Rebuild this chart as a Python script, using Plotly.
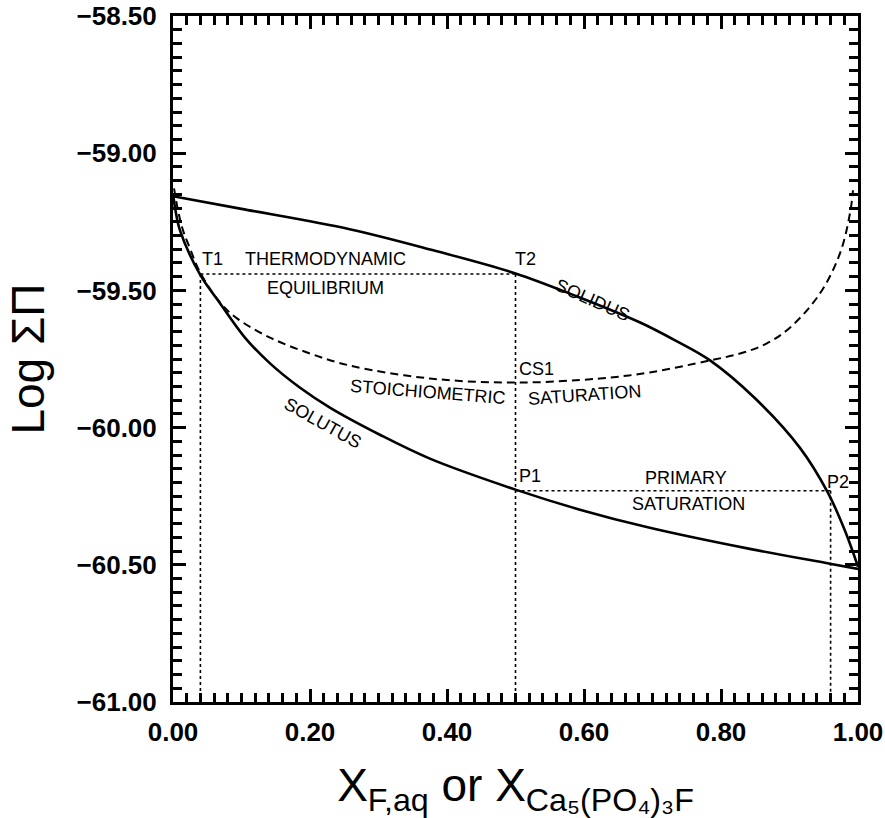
import plotly.graph_objects as go

# ---- data ----
solidus_x = [0.0, 0.1, 0.258, 0.38, 0.5, 0.59, 0.682, 0.733, 0.784, 0.85, 0.915, 0.956, 0.981, 1.0]
solidus_y = [-59.157, -59.203, -59.277, -59.354, -59.438, -59.522, -59.617, -59.682, -59.755, -59.894, -60.073, -60.237, -60.376, -60.507]

solutus_x = [0.0, 0.0036, 0.0102, 0.0394, 0.0686, 0.105, 0.1416, 0.185, 0.229, 0.302, 0.375, 0.5, 0.594, 0.696, 0.842, 0.959, 1.0]
solutus_y = [-59.146, -59.208, -59.281, -59.442, -59.547, -59.672, -59.766, -59.854, -59.927, -60.026, -60.113, -60.226, -60.299, -60.365, -60.442, -60.496, -60.515]

stoich_x = [0.0015, 0.0073, 0.0146, 0.0248, 0.0394, 0.0686, 0.0934, 0.1416, 0.2, 0.2584, 0.375, 0.5, 0.623, 0.696, 0.784, 0.828, 0.867, 0.901, 0.9445, 0.9737, 0.9883, 0.9927]
stoich_y = [-59.128, -59.208, -59.281, -59.347, -59.434, -59.544, -59.602, -59.672, -59.730, -59.774, -59.821, -59.836, -59.821, -59.799, -59.755, -59.730, -59.693, -59.635, -59.511, -59.365, -59.219, -59.135]

points = {"T1": (0.04, -59.44), "T2": (0.5, -59.44), "P1": (0.5, -60.23), "P2": (0.96, -60.23), "CS1": (0.5, -59.836)}
y_bottom = -61.0

x_ticks = [0.0, 0.2, 0.4, 0.6, 0.8, 1.0]
y_ticks = [-61.0, -60.5, -60.0, -59.5, -59.0, -58.5]

# labels: (text, x, y, angle)
labels = [
    ("T1", 0.058, -59.387, 0),
    ("THERMODYNAMIC", 0.222, -59.387, 0),
    ("EQUILIBRIUM", 0.223, -59.493, 0),
    ("T2", 0.515, -59.387, 0),
    ("SOLIDUS", 0.612, -59.536, 24),
    ("CS1", 0.53, -59.785, 0),
    ("STOICHIOMETRIC", 0.372, -59.869, 4.5),
    ("SATURATION", 0.600, -59.88, -4),
    ("SOLUTUS", 0.218, -59.985, 29),
    ("P1", 0.521, -60.175, 0),
    ("PRIMARY", 0.749, -60.182, 0),
    ("SATURATION", 0.752, -60.277, 0),
    ("P2", 0.971, -60.197, 0),
]

FONT = "Liberation Sans, Arial, sans-serif"

fig = go.Figure()

T1, T2, P1, P2 = points["T1"], points["T2"], points["P1"], points["P2"]
dot = dict(color="black", width=1.6, dash="dot")
# dotted construction lines
fig.add_trace(go.Scatter(x=[T1[0], T2[0]], y=[T1[1], T2[1]], mode="lines", line=dot))
fig.add_trace(go.Scatter(x=[T1[0], T1[0]], y=[T1[1], y_bottom], mode="lines", line=dot))
fig.add_trace(go.Scatter(x=[T2[0], T2[0]], y=[T2[1], y_bottom], mode="lines", line=dot))
fig.add_trace(go.Scatter(x=[P1[0], P2[0]], y=[P1[1], P2[1]], mode="lines", line=dot))
fig.add_trace(go.Scatter(x=[P2[0], P2[0]], y=[P2[1], y_bottom], mode="lines", line=dot))

fig.add_trace(go.Scatter(x=stoich_x, y=stoich_y, mode="lines",
                         line=dict(color="black", width=2, dash="8px,5px", shape="spline", smoothing=1)))
fig.add_trace(go.Scatter(x=solidus_x, y=solidus_y, mode="lines",
                         line=dict(color="black", width=2.6, shape="spline", smoothing=1)))
fig.add_trace(go.Scatter(x=solutus_x, y=solutus_y, mode="lines",
                         line=dict(color="black", width=2.6, shape="spline", smoothing=1)))

for text, x, y, ang in labels:
    fig.add_annotation(x=x, y=y, text=text, showarrow=False, textangle=ang,
                       font=dict(family=FONT, size=18, color="black"))

axis_common = dict(
    showline=True, linecolor="black", linewidth=3, mirror="ticks",
    ticks="inside", tickcolor="black", tickwidth=2.5, ticklen=13,
    showgrid=False, zeroline=False, tickformat=".2f",
    tickfont=dict(family=FONT, size=26, color="black", weight="bold"),
)

fig.update_xaxes(range=[0, 1], tickvals=x_ticks,
                 minor=dict(dtick=0.02, ticks="inside", ticklen=9, tickwidth=2.5, tickcolor="black"),
                 title=dict(text="X<sub>F,aq</sub> or X<sub>Ca₅(PO₄)₃F</sub>", standoff=26,
                            font=dict(family=FONT, size=46, color="black")),
                 ticklabelstandoff=5,
                 **axis_common)
fig.update_yaxes(range=[-61, -58.5], tickvals=y_ticks,
                 minor=dict(dtick=0.05, ticks="inside", ticklen=9, tickwidth=2.5, tickcolor="black"),
                 title=dict(text="Log ΣΠ", standoff=18,
                            font=dict(family=FONT, size=46, color="black")),
                 ticklabelstandoff=8,
                 **axis_common)

fig.update_layout(
    width=885, height=818,
    margin=dict(l=173, r=27, t=16, b=116, autoexpand=False),
    plot_bgcolor="white", paper_bgcolor="white",
    showlegend=False,
)

fig.write_html("out.html")
